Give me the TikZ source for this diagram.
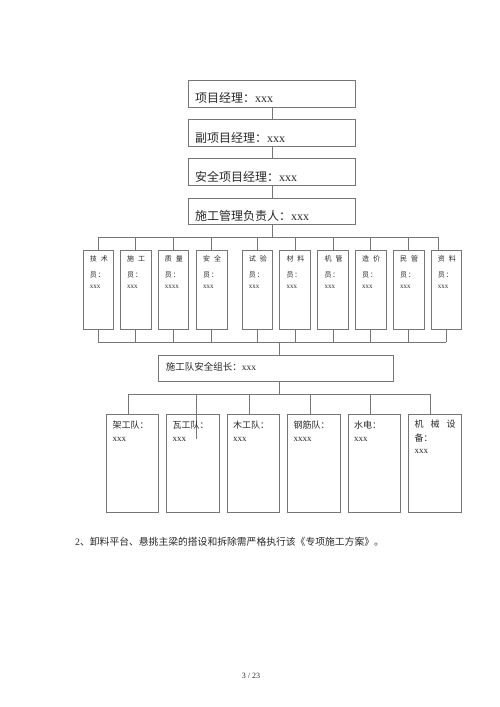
\documentclass[tikz,border=0pt]{standalone}
\usepackage{fontspec}
\setmainfont{Liberation Serif}
\newfontfamily\cjk{Noto Sans CJK SC}
\definecolor{lc}{RGB}{118,118,118}
\definecolor{tc}{RGB}{40,40,40}
\begin{document}
\begin{tikzpicture}[x=1pt,y=-1pt,
  box/.style={draw=lc, line width=0.9pt, inner sep=0pt, anchor=north west},
  ln/.style={draw=lc, line width=0.9pt},
  txt/.style={anchor=west, inner sep=0pt, text=tc},
  big/.style={txt, font=\fontsize{12}{12}\selectfont},
  mid/.style={txt, font=\fontsize{9.5}{9.5}\selectfont},
  team/.style={txt, font=\fontsize{9}{9}\selectfont},
  tiny/.style={txt, font=\fontsize{7}{7}\selectfont}]
\useasboundingbox (0,0) rectangle (500,707);
\fill[white] (0,0) rectangle (500,707);

% top chain
\node[box, minimum width=167pt, minimum height=27pt] (m1) at (188,80) {};
\node[box, minimum width=167pt, minimum height=27pt] (m2) at (188,119) {};
\node[box, minimum width=167pt, minimum height=27pt] (m3) at (188,158) {};
\node[box, minimum width=167pt, minimum height=26pt] (m4) at (188,198) {};
\node[big] (t1) at (195,98.3) {{\cjk 项目经理：}xxx};
\node[big] (t2) at (195,138) {{\cjk 副项目经理：}xxx};
\node[big] (t3) at (195,177.3) {{\cjk 安全项目经理：}xxx};
\node[big] (t4) at (195,215.7) {{\cjk 施工管理负责人：}xxx};
\draw[ln] (m1.south) -- (m2.north);
\draw[ln] (m2.south) -- (m3.north);
\draw[ln] (m3.south) -- (m4.north);

% staff boxes
\coordinate (tb) at (0,237);
\coordinate (bb) at (0,342);
\foreach \i/\x/\a/\b/\c in {1/82.7/技/术/xxx, 2/120/施/工/xxx, 3/157.7/质/量/xxxx, 4/196/安/全/xxx, 5/241.7/试/验/xxx, 6/279.3/材/料/xxx, 7/317.3/机/管/xxx, 8/355/造/价/xxx, 9/393/民/管/xxx, 10/430.7/资/料/xxx}{
  \node[box, minimum width=30.5pt, minimum height=79pt] (s\i) at (\x,250) {};
  \node[tiny] (s\i a) at (\x+7,259) {\cjk \a\hspace{4pt}\b};
  \node[tiny] (s\i b) at (\x+7,275) {\cjk 员\hspace{1pt}：};
  \node[tiny] (s\i c) at (\x+7,286.7) {\c};
  \draw[ln] (s\i.south) -- (s\i.south |- bb);
}
\foreach \i in {1,...,9}{
  \draw[ln] (s\i.north) -- (s\i.north |- tb);
}
\coordinate (tbr) at (438,237);
\draw[ln] (tbr) -- (tbr |- s10.north);
\draw[ln] (s1.north |- tb) -- (tbr);
\draw[ln] (m4.south) -- (m4.south |- tb);
\draw[ln] (s1.south |- bb) -- (s10.south |- bb);

% group leader
\node[box, minimum width=234.4pt, minimum height=26pt] (g) at (158.3,355) {};
\node[mid] (gt) at (165.7,366.5) {{\cjk 施工队安全组长：}xxx};
\coordinate (gm) at (279.3,342);
\draw[ln] (gm) -- (gm |- g.north);
\coordinate (hb) at (279.3,394);
\draw[ln] (gm |- g.south) -- (hb);
\coordinate (hl) at (128.3,394);
\coordinate (hr) at (430.7,394);
\draw[ln] (hl) -- (hr);

% teams
\foreach \i/\x/\sx in {1/105.7/128.3, 2/166.3/196.7, 3/226.7/249.3, 4/287.3/310, 5/347.7/370.3, 6/408.3/430.7}{
  \node[box, minimum width=52.7pt, minimum height=98.3pt] (k\i) at (\x,414) {};
  \coordinate (ks\i) at (\sx,394);
  \draw[ln] (ks\i) -- (ks\i |- k\i.north);
}
\coordinate (kx) at (196.7,439.3);
\draw[ln] (196.7,414) -- (kx);
\node[team] (k1a) at (112.3,425) {\cjk 架工队：};
\node[team] (k1b) at (112.3,439) {xxx};
\node[team] (k2a) at (172.5,425) {\cjk 瓦工队：};
\node[team] (k2b) at (172.5,439) {xxx};
\node[team] (k3a) at (233,425) {\cjk 木工队：};
\node[team] (k3b) at (233,439) {xxx};
\node[team] (k4a) at (293.5,425) {\cjk 钢筋队：};
\node[team] (k4b) at (293.5,439) {xxxx};
\node[team] (k5a) at (354,425) {\cjk 水电：};
\node[team] (k5b) at (354,439) {xxx};
\node[team] (k6a) at (414.5,424) {\cjk 机\hspace{7pt}械\hspace{7pt}设};
\node[team] (k6b) at (414.5,438) {\cjk 备：};
\node[team] (k6c) at (414.5,451.7) {xxx};

% footer text
\node[txt, font=\fontsize{9.8}{9.8}\selectfont] (note) at (75,541.7) {2{\cjk 、卸料平台、悬挑主梁的搭设和拆除需严格执行该《专项施工方案》。}};
\node[anchor=center, inner sep=0pt, text=tc, font=\fontsize{8}{8}\selectfont] (pg) at (251,676) {3 / 23};
\end{tikzpicture}
\end{document}
